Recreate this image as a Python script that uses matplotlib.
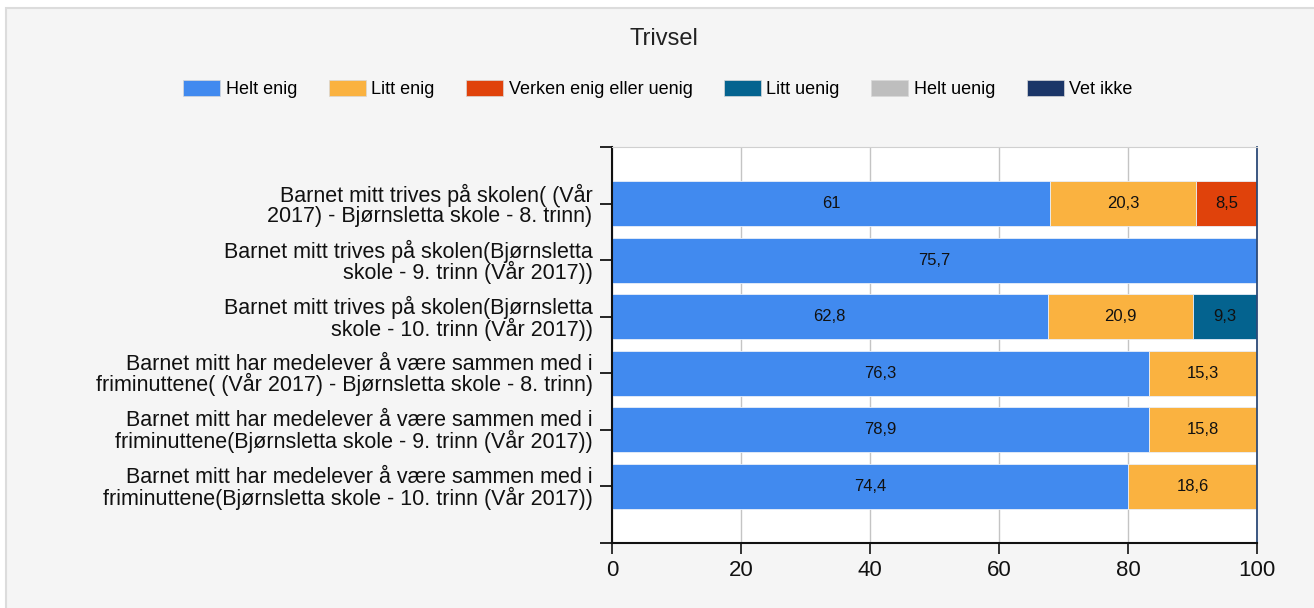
import numpy as np
import matplotlib
matplotlib.use("Agg")
import matplotlib.pyplot as plt
from matplotlib.patches import Rectangle, Patch

# ── data ─────────────────────────────────────────────────────────────────────
questions = [
    "Barnet mitt trives på skolen( (Vår\n2017) - Bjørnsletta skole - 8. trinn)",
    "Barnet mitt trives på skolen(Bjørnsletta\nskole - 9. trinn (Vår 2017))",
    "Barnet mitt trives på skolen(Bjørnsletta\nskole - 10. trinn (Vår 2017))",
    "Barnet mitt har medelever å være sammen med i\nfriminuttene( (Vår 2017) - Bjørnsletta skole - 8. trinn)",
    "Barnet mitt har medelever å være sammen med i\nfriminuttene(Bjørnsletta skole - 9. trinn (Vår 2017))",
    "Barnet mitt har medelever å være sammen med i\nfriminuttene(Bjørnsletta skole - 10. trinn (Vår 2017))",
]
answers = ["Helt enig", "Litt enig", "Verken enig eller uenig",
           "Litt uenig", "Helt uenig", "Vet ikke"]
helt_enig   = [61.0, 75.7, 62.8, 76.3, 78.9, 74.4]
litt_enig   = [20.3, 0.0, 20.9, 15.3, 15.8, 18.6]
verken      = [8.5, 0.0, 0.0, 0.0, 0.0, 0.0]
litt_uenig  = [0.0, 0.0, 9.3, 0.0, 0.0, 0.0]
helt_uenig  = [0.0, 0.0, 0.0, 0.0, 0.0, 0.0]
vet_ikke    = [0.0, 0.0, 0.0, 0.0, 0.0, 0.0]
xticks = [0, 20, 40, 60, 80, 100]

colors = ["#418aef", "#fab240", "#e0420b", "#04638f", "#bebebe", "#1b3668"]

# ── figure ────────────────────────────────────────────────────────────────────
plt.rcParams["font.family"] = ["Liberation Sans", "DejaVu Sans"]
fig = plt.figure(figsize=(13.14, 6.08), dpi=100, facecolor="white")
fig.patches.append(Rectangle((6 / 1314, -0.01), 1.0, 1 - 8 / 608 + 0.01,
                             transform=fig.transFigure, facecolor="#f5f5f5",
                             edgecolor="#dcdcdc", lw=1.5, zorder=-10))

ax = fig.add_axes([612 / 1314, 1 - 543 / 608, (1257 - 612) / 1314, (543 - 147) / 608])
ax.set_facecolor("white")

series = np.array([helt_enig, litt_enig, verken, litt_uenig, helt_uenig, vet_ikke])
totals = series.sum(axis=0)
shares = series / totals * 100          # bars are scaled to fill 0–100
ypos = np.arange(1, len(questions) + 1)

left = np.zeros(len(questions))
for i, name in enumerate(answers):
    ax.barh(ypos, shares[i], left=left, height=0.8, color=colors[i],
            edgecolor="#e8eef8", linewidth=0.6, zorder=2)
    for y, l, w, v in zip(ypos, left, shares[i], series[i]):
        if v > 0:
            ax.text(l + w / 2, y, f"{v:g}".replace(".", ","), ha="center",
                    va="center", fontsize=12, color="#111111", zorder=3)
    left += shares[i]

ax.set_xlim(0, 100)
ax.set_ylim(7, 0)
ax.set_xticks(xticks)
ax.set_yticks(range(0, 8))
ax.set_yticklabels([""] + questions + [""], fontsize=15.5, color="#111111",
                   ha="right", linespacing=0.92)
ax.tick_params(axis="y", length=9, width=1.2, pad=5)
ax.tick_params(axis="x", length=8, width=1.2, pad=4, labelsize=16, colors="#111111")
ax.grid(axis="x", color="#c4c4c4", linewidth=1.0, zorder=0)
ax.set_axisbelow(True)

ax.spines["left"].set_color("#111111")
ax.spines["left"].set_linewidth(1.5)
ax.spines["bottom"].set_color("#111111")
ax.spines["bottom"].set_linewidth(1.5)
ax.spines["top"].set_color("#d0d0d0")
ax.spines["right"].set_color("#2c4a78")
ax.spines["right"].set_linewidth(1.3)

fig.text(664 / 1314, 1 - 39 / 608, "Trivsel", ha="center", va="center",
         fontsize=17, color="#222222")

handles = [Patch(facecolor=c, edgecolor="#d8d8d8", lw=0.5) for c in colors]
fig.legend(handles, answers, loc="center", bbox_to_anchor=(658 / 1314, 1 - 89 / 608),
           ncol=6, frameon=False, fontsize=13, handlelength=2.05, handleheight=1.05,
           handletextpad=0.3, columnspacing=1.75)

plt.savefig("out.png", dpi=100, facecolor="white")
plt.close()
